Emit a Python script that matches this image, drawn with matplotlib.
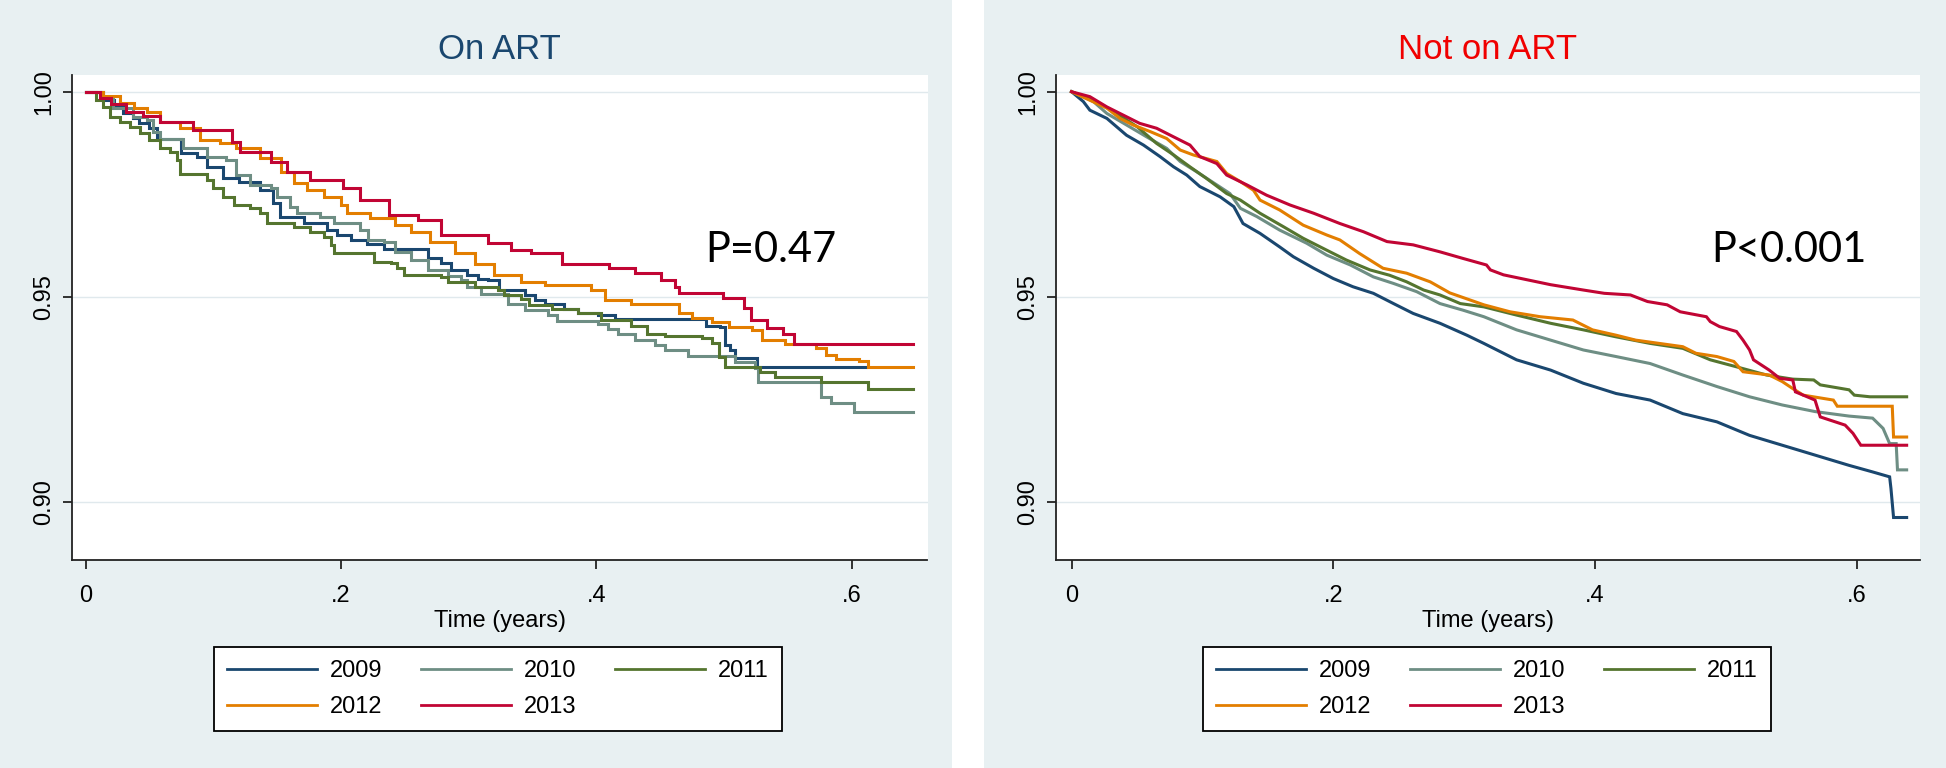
import matplotlib.pyplot as plt
from matplotlib.lines import Line2D
from matplotlib.patches import Rectangle

plt.rcParams['font.family'] = ['Liberation Sans', 'DejaVu Sans']

# ---------------- data: Kaplan-Meier estimates ----------------
years = ['2009', '2010', '2011', '2012', '2013']
colors = ['#1a476f', '#6e8e84', '#55752f', '#e37e00', '#c10534']

# On ART (step curves)
on_t_2009 = [0, 0.014, 0.022, 0.029, 0.037, 0.042, 0.05, 0.0556, 0.075, 0.087, 0.095, 0.108, 0.12, 0.137,
             0.147, 0.1525, 0.171, 0.189, 0.197, 0.2076, 0.2207, 0.234, 0.268, 0.278, 0.286, 0.299, 0.307,
             0.315, 0.324, 0.344, 0.352, 0.36, 0.375, 0.386, 0.401, 0.415, 0.486, 0.497, 0.501, 0.505,
             0.509, 0.526, 0.611]
on_s_2009 = [1.0, 0.998, 0.9965, 0.9947, 0.9935, 0.9923, 0.9911, 0.9886, 0.985, 0.9842, 0.9817, 0.9789,
             0.9781, 0.976, 0.9728, 0.9696, 0.968, 0.9663, 0.965, 0.9639, 0.963, 0.9618, 0.9594, 0.9582,
             0.9566, 0.9553, 0.9545, 0.9541, 0.9516, 0.9504, 0.9493, 0.9484, 0.9472, 0.946, 0.9456, 0.9446,
             0.943, 0.9426, 0.9383, 0.9371, 0.9351, 0.933, 0.933]

on_t_2010 = [0, 0.0136, 0.0215, 0.037, 0.048, 0.053, 0.058, 0.0765, 0.095, 0.11, 0.118, 0.129, 0.145, 0.15,
             0.16, 0.166, 0.184, 0.1945, 0.215, 0.221, 0.234, 0.242, 0.255, 0.268, 0.284, 0.294, 0.299, 0.31,
             0.331, 0.344, 0.362, 0.369, 0.401, 0.409, 0.417, 0.43, 0.446, 0.454, 0.472, 0.509, 0.524,
             0.527, 0.576, 0.584, 0.602, 0.648]
on_s_2010 = [1.0, 0.9985, 0.996, 0.9939, 0.9931, 0.9903, 0.9886, 0.9862, 0.9842, 0.9834, 0.9797, 0.9773,
             0.9765, 0.9744, 0.972, 0.9704, 0.9696, 0.968, 0.9663, 0.9639, 0.9635, 0.961, 0.959, 0.9566,
             0.955, 0.9541, 0.9525, 0.9507, 0.9484, 0.9468, 0.9456, 0.9442, 0.9434, 0.9423, 0.9411, 0.9396,
             0.9383, 0.937, 0.9356, 0.9342, 0.9326, 0.9294, 0.9257, 0.9241, 0.922, 0.922]

on_t_2011 = [0, 0.008, 0.0136, 0.019, 0.0267, 0.0346, 0.0425, 0.05, 0.058, 0.066, 0.0713, 0.074, 0.0954, 0.1,
             0.108, 0.116, 0.129, 0.137, 0.142, 0.163, 0.176, 0.187, 0.192, 0.1945, 0.226, 0.239, 0.244,
             0.2495, 0.278, 0.284, 0.305, 0.323, 0.328, 0.341, 0.347, 0.365, 0.386, 0.404, 0.4275, 0.44,
             0.454, 0.483, 0.491, 0.496, 0.501, 0.528, 0.54, 0.576, 0.613, 0.648]
on_s_2011 = [1.0, 0.998, 0.9963, 0.9939, 0.9927, 0.9915, 0.9899, 0.9882, 0.9862, 0.9854, 0.9834, 0.98,
             0.9785, 0.9765, 0.9744, 0.9724, 0.9716, 0.9704, 0.968, 0.9671, 0.9659, 0.9647, 0.9627, 0.9606,
             0.9586, 0.9582, 0.957, 0.9553, 0.9549, 0.9537, 0.9525, 0.9517, 0.9504, 0.9494, 0.948, 0.9472,
             0.946, 0.9444, 0.943, 0.9411, 0.9405, 0.94, 0.9387, 0.9355, 0.933, 0.9318, 0.9306, 0.9294,
             0.9277, 0.9277]

on_t_2012 = [0, 0.0136, 0.027, 0.038, 0.048, 0.058, 0.074, 0.0896, 0.105, 0.118, 0.137, 0.153, 0.163,
             0.1735, 0.187, 0.2, 0.205, 0.223, 0.242, 0.255, 0.27, 0.289, 0.305, 0.32, 0.341, 0.36, 0.396,
             0.407, 0.4275, 0.4646, 0.475, 0.491, 0.504, 0.522, 0.53, 0.548, 0.572, 0.58, 0.588, 0.606,
             0.613, 0.648]
on_s_2012 = [1.0, 0.999, 0.9972, 0.996, 0.9951, 0.9927, 0.9911, 0.9882, 0.9874, 0.9862, 0.9838, 0.9805,
             0.9777, 0.976, 0.9744, 0.9724, 0.9704, 0.9692, 0.9675, 0.9659, 0.9635, 0.9606, 0.958, 0.9553,
             0.9537, 0.953, 0.9517, 0.9493, 0.9484, 0.946, 0.945, 0.944, 0.9428, 0.942, 0.9395, 0.9385,
             0.9375, 0.9359, 0.935, 0.9343, 0.9329, 0.9329]

on_t_2013 = [0, 0.011, 0.02, 0.032, 0.045, 0.058, 0.084, 0.1145, 0.121, 0.145, 0.158, 0.176, 0.202, 0.215,
             0.238, 0.26, 0.278, 0.315, 0.333, 0.349, 0.373, 0.41, 0.43, 0.451, 0.462, 0.4646, 0.499, 0.516,
             0.521, 0.534, 0.546, 0.555, 0.648]
on_s_2013 = [1.0, 0.9985, 0.997, 0.9951, 0.994, 0.9927, 0.9907, 0.9878, 0.9854, 0.983, 0.9805, 0.9785,
             0.9765, 0.9736, 0.97, 0.9687, 0.965, 0.9632, 0.9614, 0.9606, 0.958, 0.957, 0.9558, 0.9541,
             0.9525, 0.9509, 0.9497, 0.9473, 0.9443, 0.9425, 0.9409, 0.9386, 0.9386]

# Not on ART (dense curves)
not_t_2009 = [0, 0.009, 0.014, 0.027, 0.042, 0.055, 0.0676, 0.078, 0.088, 0.098, 0.1135, 0.124, 0.131, 0.144,
              0.159, 0.1695, 0.185, 0.2, 0.215, 0.2306, 0.246, 0.261, 0.2815, 0.302, 0.315, 0.34, 0.366,
              0.391, 0.416, 0.442, 0.467, 0.493, 0.518, 0.543, 0.568, 0.594, 0.612, 0.625, 0.626, 0.628, 0.638]
not_s_2009 = [1.0, 0.9976, 0.9955, 0.9935, 0.9894, 0.987, 0.9842, 0.9817, 0.9797, 0.9769, 0.9744, 0.972,
              0.9679, 0.9655, 0.9622, 0.9598, 0.957, 0.9545, 0.9525, 0.9509, 0.9484, 0.946, 0.9436, 0.9407,
              0.9387, 0.9347, 0.9322, 0.929, 0.9265, 0.9249, 0.9216, 0.9196, 0.9163, 0.9139, 0.9115, 0.909,
              0.9074, 0.9062, 0.9034, 0.8963, 0.8963]

not_t_2010 = [0, 0.0167, 0.027, 0.042, 0.0574, 0.0727, 0.083, 0.0956, 0.111, 0.121, 0.129, 0.1415, 0.159,
              0.1796, 0.195, 0.213, 0.2306, 0.246, 0.2637, 0.2815, 0.299, 0.315, 0.34, 0.366, 0.391, 0.416,
              0.442, 0.467, 0.493, 0.518, 0.543, 0.568, 0.594, 0.612, 0.62, 0.625, 0.63, 0.631, 0.638]
not_s_2010 = [1.0, 0.9976, 0.9947, 0.9919, 0.989, 0.9862, 0.983, 0.9805, 0.9773, 0.9752, 0.9716, 0.9696,
              0.9663, 0.9631, 0.9602, 0.9578, 0.9549, 0.9533, 0.9513, 0.9484, 0.9468, 0.9452, 0.942, 0.9395,
              0.9371, 0.9355, 0.9338, 0.931, 0.9282, 0.9257, 0.9237, 0.9221, 0.921, 0.9205, 0.918, 0.9143,
              0.9143, 0.9079, 0.9079]

not_t_2011 = [0, 0.019, 0.0345, 0.05, 0.065, 0.078, 0.0905, 0.103, 0.1185, 0.129, 0.144, 0.162, 0.177, 0.195,
              0.21, 0.228, 0.243, 0.256, 0.269, 0.2815, 0.297, 0.315, 0.34, 0.366, 0.391, 0.416, 0.442, 0.467,
              0.488, 0.508, 0.531, 0.551, 0.567, 0.572, 0.594, 0.598, 0.61, 0.638]
not_s_2011 = [1.0, 0.9976, 0.9947, 0.9915, 0.9874, 0.9846, 0.9817, 0.9789, 0.9752, 0.9736, 0.9704, 0.9671,
              0.9643, 0.9614, 0.959, 0.9566, 0.9553, 0.9537, 0.9517, 0.9505, 0.9484, 0.9476, 0.9456, 0.9436,
              0.942, 0.9403, 0.9387, 0.9375, 0.9347, 0.933, 0.931, 0.93, 0.9298, 0.9286, 0.9274, 0.9261,
              0.9257, 0.9257]

not_t_2012 = [0, 0.027, 0.037, 0.047, 0.06, 0.0727, 0.083, 0.093, 0.111, 0.1185, 0.129, 0.139, 0.144, 0.159,
              0.177, 0.195, 0.205, 0.22, 0.238, 0.256, 0.274, 0.289, 0.315, 0.335, 0.358, 0.383, 0.398, 0.416,
              0.431, 0.449, 0.467, 0.477, 0.493, 0.506, 0.513, 0.533, 0.543, 0.551, 0.559, 0.582, 0.585,
              0.627, 0.628, 0.638]
not_s_2012 = [1.0, 0.996, 0.9935, 0.9919, 0.9903, 0.9886, 0.9858, 0.9846, 0.983, 0.9801, 0.9781, 0.976,
              0.9736, 0.9712, 0.9675, 0.9651, 0.9639, 0.9606, 0.957, 0.9558, 0.9537, 0.951, 0.9481, 0.9464,
              0.9452, 0.9444, 0.942, 0.9407, 0.9395, 0.9387, 0.9379, 0.9363, 0.9355, 0.9343, 0.9318, 0.931,
              0.9294, 0.9277, 0.9261, 0.9249, 0.9234, 0.9234, 0.9159, 0.9159]

not_t_2013 = [0, 0.014, 0.027, 0.042, 0.052, 0.065, 0.078, 0.0905, 0.098, 0.111, 0.1185, 0.134, 0.149, 0.167,
              0.185, 0.205, 0.223, 0.241, 0.261, 0.2815, 0.299, 0.317, 0.32, 0.33, 0.366, 0.391, 0.407, 0.427,
              0.44, 0.455, 0.465, 0.485, 0.488, 0.495, 0.508, 0.513, 0.518, 0.521, 0.533, 0.541, 0.551,
              0.553, 0.568, 0.572, 0.591, 0.597, 0.603, 0.638]
not_s_2013 = [1.0, 0.9988, 0.9963, 0.9939, 0.9923, 0.9911, 0.989, 0.987, 0.9842, 0.9825, 0.9797, 0.9773,
              0.9748, 0.9724, 0.9704, 0.9679, 0.9659, 0.9635, 0.9627, 0.961, 0.9594, 0.9578, 0.9566, 0.9554,
              0.953, 0.9517, 0.9509, 0.9505, 0.9489, 0.9481, 0.9464, 0.9452, 0.944, 0.9428, 0.9416, 0.9395,
              0.9371, 0.9347, 0.9322, 0.9302, 0.9298, 0.9269, 0.9249, 0.9208, 0.9188, 0.9168, 0.9139, 0.9139]

on_curves = [(on_t_2009, on_s_2009), (on_t_2010, on_s_2010), (on_t_2011, on_s_2011),
             (on_t_2012, on_s_2012), (on_t_2013, on_s_2013)]
not_curves = [(not_t_2009, not_s_2009), (not_t_2010, not_s_2010), (not_t_2011, not_s_2011),
              (not_t_2012, not_s_2012), (not_t_2013, not_s_2013)]

y_ticks = [0.90, 0.95, 1.00]
y_ticklabels = ['0.90', '0.95', '1.00']
x_ticks = [0, 0.2, 0.4, 0.6]
x_ticklabels = ['0', '.2', '.4', '.6']

# ---------------- layout ----------------
W, H = 1946, 768
BG = '#e8f0f2'
GRID = '#e0e9ed'

fig = plt.figure(figsize=(W / 100, H / 100), dpi=100)
fig.patch.set_facecolor('white')
fig.patches.append(Rectangle((0, 0), 952 / W, 1, transform=fig.transFigure, facecolor=BG, edgecolor='none', zorder=-10))
fig.patches.append(Rectangle((984 / W, 0), (W - 984) / W, 1, transform=fig.transFigure, facecolor=BG, edgecolor='none', zorder=-10))


def draw_panel(left_px, width_px, curves, xlim, title, title_color, ptext, ppos, steps, legend_cx):
    ax = fig.add_axes([left_px / W, 1 - 560 / H, width_px / W, 485 / H])
    ax.set_facecolor('white')

    for (t, s), c in zip(curves, colors):
        ax.plot(t, s, color=c, lw=2.2, drawstyle='steps-post' if steps else 'default',
                solid_joinstyle='miter', zorder=3)

    ax.set_xlim(*xlim)
    ax.set_ylim(0.88595, 1.00407)
    ax.set_yticks(y_ticks)
    ax.set_yticklabels(y_ticklabels, rotation=90, va='center')
    ax.set_xticks(x_ticks)
    ax.set_xticklabels(x_ticklabels)
    ax.yaxis.grid(True, color=GRID, lw=1.0)
    ax.set_axisbelow(True)

    for side in ['top', 'right']:
        ax.spines[side].set_visible(False)
    for side in ['left', 'bottom']:
        ax.spines[side].set_color('#222222')
        ax.spines[side].set_linewidth(1.3)
    ax.tick_params(axis='both', direction='out', length=6.5, width=1.3, color='#222222', labelsize=17)
    ax.tick_params(axis='x', pad=11.5)
    ax.tick_params(axis='y', pad=5.5)

    ax.set_title(title, color=title_color, fontsize=25, pad=11.5)
    ax.set_xlabel('Time (years)', fontsize=17, va='center')
    ax.xaxis.set_label_coords(0.5, (560 - 621) / 485)

    ax.text(ppos[0], ppos[1], ptext, fontsize=30, family=['Lato', 'DejaVu Sans'],
            ha='center', va='center', color='black')

    # legend filled row-wise like Stata: reorder for column-wise fill
    order = [0, 3, 1, 4, 2]
    handles = [Line2D([], [], color=colors[i], lw=2.0) for i in order]
    labels = [years[i] for i in order]
    leg = ax.legend(handles, labels, ncol=3, loc='upper center',
                    bbox_to_anchor=(legend_cx / W, 1 - 647 / H), bbox_transform=fig.transFigure,
                    fontsize=17, frameon=True, fancybox=False, edgecolor='black', framealpha=1,
                    borderaxespad=0, borderpad=0.55, handlelength=3.8, handletextpad=0.55,
                    columnspacing=1.65, labelspacing=0.59)
    leg.get_frame().set_linewidth(1.3)
    return ax


draw_panel(72, 855.5, on_curves, (-0.0106, 0.6594), 'On ART', '#1a476f',
           'P=0.47', (0.537, 0.9614), True, 498)
draw_panel(1055.7, 864.3, not_curves, (-0.0121, 0.6482), 'Not on ART', '#f00000',
           'P<0.001', (0.548, 0.9614), False, 1487)

fig.savefig('out.png', dpi=100, facecolor=fig.get_facecolor())
